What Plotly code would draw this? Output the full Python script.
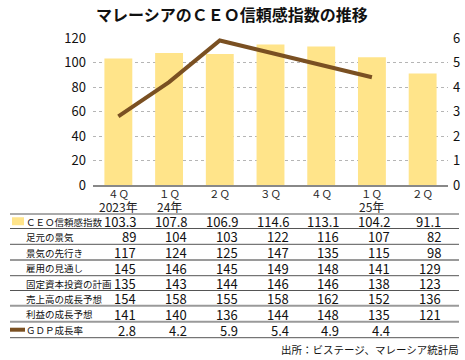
import plotly.graph_objects as go

cat_top = ["４Ｑ", "１Ｑ", "２Ｑ", "３Ｑ", "４Ｑ", "１Ｑ", "２Ｑ"]
cat_year = ["2023年", "24年", "", "", "", "25年", ""]
ceo_index = [103.3, 107.8, 106.9, 114.6, 113.1, 104.2, 91.1]
gdp_growth = [2.8, 4.2, 5.9, 5.4, 4.9, 4.4, None]

row_labels = ["ＣＥＯ信頼感指数", "足元の景気", "景気の先行き", "雇用の見通し",
              "固定資本投資の計画", "売上高の成長予想", "利益の成長予想", "ＧＤＰ成長率"]
current_economy = [89, 104, 103, 122, 116, 107, 82]
economy_outlook = [117, 124, 125, 147, 135, 115, 98]
employment_outlook = [145, 146, 145, 149, 148, 141, 129]
capex_plan = [135, 143, 144, 146, 146, 138, 123]
sales_growth = [154, 158, 155, 158, 162, 152, 136]
profit_growth = [141, 140, 136, 144, 148, 135, 121]

left_ticks = [0, 20, 40, 60, 80, 100, 120]
right_ticks = [0, 1, 2, 3, 4, 5, 6]

W, H = 465, 360
L, R, T, B = 93, 448, 38, 185
FONT = "Liberation Sans Narrow, Noto Sans CJK JP, sans-serif"
JP = "Noto Sans CJK JP, sans-serif"
BAR = "#FFE48A"
LINE = "#7A5022"

def px(x):
    return (x - L) / (R - L)

def py(y):
    return (B - y) / (B - T)

xs = list(range(len(cat_top)))

fig = go.Figure()
fig.add_trace(go.Bar(x=xs, y=ceo_index, marker=dict(color=BAR, line=dict(width=0)),
                     width=0.55, yaxis="y", hoverinfo="skip"))
fig.add_trace(go.Scatter(x=xs, y=gdp_growth, mode="lines", line=dict(color=LINE, width=4),
                         yaxis="y2", hoverinfo="skip"))

fig.update_layout(
    width=W, height=H,
    margin=dict(l=L, r=W - R, t=T, b=H - B, autoexpand=False),
    paper_bgcolor="white", plot_bgcolor="white",
    showlegend=False,
    font=dict(family=FONT, size=13, color="#111"),
    xaxis=dict(tickvals=xs, showticklabels=False,
               range=[-0.5, len(xs) - 0.5], showgrid=False, ticks="",
               showline=True, linecolor="#888", linewidth=1.5),
    yaxis=dict(range=[0, 120], tickvals=left_ticks, showgrid=True,
               gridcolor="#b5b5b5", griddash="dot", gridwidth=1,
               zeroline=False, ticks="", ticklabelstandoff=6,
               tickfont=dict(family=FONT, size=13, color="#111")),
    yaxis2=dict(range=[0, 6], tickvals=right_ticks, overlaying="y", side="right",
                showgrid=False, zeroline=False, ticks="", ticklabelstandoff=4,
                tickfont=dict(family=FONT, size=13, color="#111")),
)

# category labels
for i, (a, b) in enumerate(zip(cat_top, cat_year)):
    fig.add_annotation(text=a, xref="x", yref="paper", x=i, y=py(193), showarrow=False,
                       xanchor="center", yanchor="middle", borderpad=0,
                       font=dict(family=JP, size=10.5, color="#222"))
    if b:
        fig.add_annotation(text=b, xref="x", yref="paper", x=i, y=py(206.5), showarrow=False,
                           xanchor="center", yanchor="middle", borderpad=0,
                           font=dict(family=FONT, size=12, color="#222"))

# title
fig.add_annotation(text="<b>マレーシアのＣＥＯ信頼感指数の推移</b>", xref="paper", yref="paper",
                   x=px(232), y=py(14), showarrow=False, xanchor="center", yanchor="middle",
                   font=dict(family=JP, size=16, color="#111"))

# table
row_lines = [214, 228.5, 244.3, 260, 275.7, 290.5, 305.7, 321.7, 337.7]
thick = {260, 305.7, 321.7}
for yl in row_lines:
    fig.add_shape(type="line", xref="paper", yref="paper", x0=px(10), x1=px(459),
                  y0=py(yl), y1=py(yl),
                  line=dict(color="#9a9a9a" if yl in thick else "#555",
                            width=2 if yl in thick else 1))

table_rows = [ceo_index, current_economy, economy_outlook, employment_outlook,
              capex_plan, sales_growth, profit_growth, gdp_growth]
for r, (lab, vals) in enumerate(zip(row_labels, table_rows)):
    yc = (row_lines[r] + row_lines[r + 1]) / 2 + 0.5
    fig.add_annotation(text=lab, xref="paper", yref="paper", x=px(25), y=py(yc),
                       showarrow=False, xanchor="left", yanchor="middle", borderpad=0,
                       font=dict(family=JP, size=9.5, color="#111"))
    for i, v in enumerate(vals):
        if v is None:
            continue
        s = f"{v:.1f}" if isinstance(v, float) else str(v)
        fig.add_annotation(text=s, xref="x", yref="paper", x=i, y=py(yc),
                           showarrow=False, xanchor="right", yanchor="middle", xshift=19,
                           borderpad=0,
                           font=dict(family=FONT, size=13, color="#111"))

# legend swatches
y0 = (row_lines[0] + row_lines[1]) / 2
fig.add_shape(type="rect", xref="paper", yref="paper", x0=px(12), x1=px(24),
              y0=py(y0 + 4), y1=py(y0 - 4), fillcolor=BAR, line=dict(width=0))
y7 = (row_lines[7] + row_lines[8]) / 2
fig.add_shape(type="line", xref="paper", yref="paper", x0=px(10), x1=px(25),
              y0=py(y7), y1=py(y7), line=dict(color=LINE, width=4))

# source
fig.add_annotation(text="出所：ビステージ、マレーシア統計局", xref="paper", yref="paper",
                   x=px(461), y=py(350), showarrow=False, xanchor="right", yanchor="middle",
                   font=dict(family=JP, size=10.5, color="#111"))

fig.write_html("out.html", config={"displayModeBar": False},
               post_script="document.body.style.margin='0';document.body.style.overflow='hidden';")
